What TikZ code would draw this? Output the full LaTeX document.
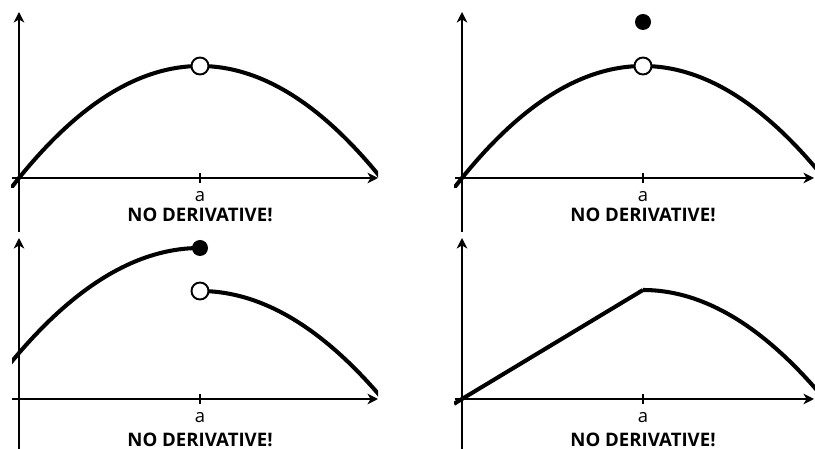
\documentclass[tikz,border=0pt]{standalone}
\usepackage{fontspec}
\setmainfont{Open Sans}
\usetikzlibrary{arrows.meta}

\tikzset{
axis/.style={line width=1.1pt,-{Stealth[length=6pt,width=6pt,inset=1.8pt]}},
graph/.style={line width=2.3pt},
hole/.style={draw,line width=1.1pt,fill=white},
dot/.style={fill=black},
lbl/.style={font=\fontsize{10.5}{11}\selectfont},
warn/.style={font=\fontsize{10.6}{11}\selectfont\bfseries}
}

\begin{document}
\begin{tikzpicture}[x=0.02cm,y=0.02cm]
\useasboundingbox (0,0) rectangle (815,449);
% top left
\begin{scope}[shift={(19,271)}]
\draw[axis](0,-54)--(0,166);
\draw[axis](-7,0)--(359,0);
\draw[line width=1.1pt](181,-5)--(181,5);
\node[lbl] (a1) at (181,-18.5) {a};
\node[warn] (n1) at (181,-37) {NO DERIVATIVE!};
\begin{scope}
\clip (-8,-10) rectangle (359,170);
\draw[graph] plot[domain=-10:362,samples=80] (\x,{112-112*((\x-181)/181)*((\x-181)/181)});
\end{scope}
\draw[hole] (181,112) circle[radius=0.17cm];
\end{scope}
% top right
\begin{scope}[shift={(462,271)}]
\draw[axis](0,-54)--(0,166);
\draw[axis](-7,0)--(352,0);
\draw[line width=1.1pt](181,-5)--(181,5);
\node[lbl] (a2) at (181,-18.5) {a};
\node[warn] (n2) at (181,-37) {NO DERIVATIVE!};
\begin{scope}
\clip (-8,-10) rectangle (353,170);
\draw[graph] plot[domain=-10:362,samples=80] (\x,{112-112*((\x-181)/181)*((\x-181)/181)});
\end{scope}
\draw[hole] (181,112) circle[radius=0.17cm];
\fill[dot] (181,156) circle[radius=0.16cm];
\end{scope}
% bottom left
\begin{scope}[shift={(19,50)}]
\draw[axis](0,-50)--(0,161);
\draw[axis](-7,0)--(359,0);
\draw[line width=1.1pt](181,-5)--(181,5);
\node[lbl] (a3) at (181,-18.5) {a};
\node[warn] (n3) at (181,-41) {NO DERIVATIVE!};
\begin{scope}
\clip (-7,-10) rectangle (359,170);
\draw[graph] plot[domain=-10:181,samples=50] (\x,{151-105*((\x-181)/181)*((\x-181)/181)});
\draw[graph] plot[domain=181:362,samples=50] (\x,{108-106*((\x-181)/181)*((\x-181)/181)});
\end{scope}
\fill[dot] (181,151) circle[radius=0.16cm];
\draw[hole] (181,108) circle[radius=0.17cm];
\end{scope}
% bottom right
\begin{scope}[shift={(462,50)}]
\draw[axis](0,-50)--(0,161);
\draw[axis](-7,0)--(352,0);
\draw[line width=1.1pt](181,-5)--(181,5);
\node[lbl] (a4) at (181,-18.5) {a};
\node[warn] (n4) at (181,-41) {NO DERIVATIVE!};
\begin{scope}
\clip (-8,-10) rectangle (353,170);
\draw[graph,line join=round] (-8,-4.8)--(181,109)
plot[domain=181:362,samples=50] (\x,{109-98*((\x-181)/172)*((\x-181)/172)});
\end{scope}
\end{scope}
\end{tikzpicture}
\end{document}
